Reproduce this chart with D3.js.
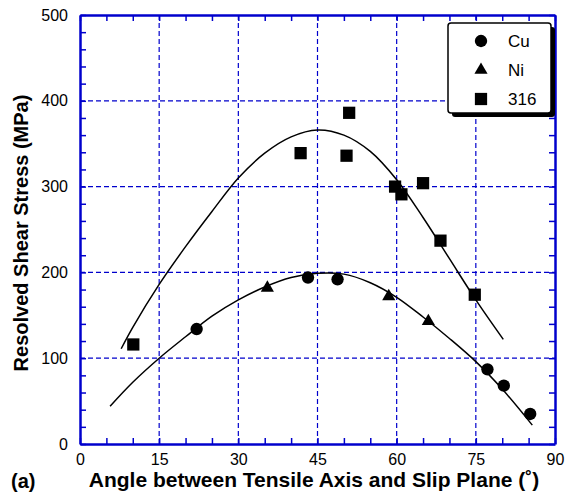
<!DOCTYPE html>
<html>
<head>
<meta charset="utf-8">
<script src="https://cdn.jsdelivr.net/npm/d3@7"></script>
<style>
  body { margin: 0; background: #fff; }
  text { font-family: "Liberation Sans", Arial, sans-serif; }
</style>
</head>
<body>
<div id="chart"></div>
<script>
// measured points
let cuAngle = [22.1, 43.2, 48.8, 77.2, 80.3, 85.3]
let cuStress = [134, 194, 192, 87, 68, 35]
let niAngle = [35.5, 58.5, 66.0]
let niStress = [182, 172, 143]
let ssAngle = [10.1, 41.8, 50.5, 51.0, 59.7, 60.9, 65.0, 68.3, 74.8]
let ssStress = [116, 339, 336, 386, 300, 291, 304, 237, 174]

// fitted curves
let fitHighAngle = [7.8, 10, 15, 20, 25, 30, 35, 40, 45, 50, 55, 60, 65, 70, 75, 80.2]
let fitHighStress = [111, 136, 186, 230, 271, 310, 339, 358, 366, 360, 341, 308, 264, 216, 168, 122]
let fitLowAngle = [5.7, 10, 15, 20, 25, 30, 35, 40, 45, 50, 55, 60, 65, 70, 75, 80, 85.7]
let fitLowStress = [44, 72, 100, 125, 149, 168, 183, 194, 199, 198, 188, 171, 148, 123, 96, 64, 22]

let xTicks = [0, 15, 30, 45, 60, 75, 90]
let yTicks = [0, 100, 200, 300, 400, 500]
let legendLabels = ["Cu", "Ni", "316"]

let margin = {top: 15, right: 12, bottom: 58, left: 80}
let width = 567 - margin.left - margin.right
let height = 502 - margin.top - margin.bottom
let blue = "#0000cc"

let svg = d3.select("#chart")
    .append("svg")
    .attr("width", 567)
    .attr("height", 502)
    .append("g")
    .attr("transform", "translate(" + margin.left + "," + margin.top + ")")

let x = d3.scaleLinear().domain([0, 90]).range([0, width])
let y = d3.scaleLinear().domain([0, 500]).range([height, 0])

// grid
svg.append("g").selectAll("line")
    .data(xTicks.slice(1, -1))
    .enter().append("line")
    .attr("x1", d => x(d)).attr("x2", d => x(d))
    .attr("y1", 0).attr("y2", height)
    .attr("stroke", blue).attr("stroke-width", 1.2)
    .attr("stroke-dasharray", "5,3")
svg.append("g").selectAll("line")
    .data(yTicks.slice(1, -1))
    .enter().append("line")
    .attr("y1", d => y(d)).attr("y2", d => y(d))
    .attr("x1", 0).attr("x2", width)
    .attr("stroke", blue).attr("stroke-width", 1.2)
    .attr("stroke-dasharray", "5,3")

// axes with inner ticks on every side
function styleAxis(g) {
    g.select(".domain").attr("stroke", blue).attr("stroke-width", 2.5)
    g.selectAll(".tick line").attr("stroke", blue).attr("stroke-width", 1.5)
    g.selectAll(".tick text").attr("fill", "#000")
        .style("font-size", "16px").style("font-family", "Liberation Sans, Arial, sans-serif")
}
let xMinor = d3.range(0, 91, 5)
let yMinor = d3.range(0, 501, 20)

svg.append("g")
    .attr("transform", "translate(0," + height + ")")
    .call(d3.axisBottom(x).tickValues(xMinor).tickSize(-6).tickSizeOuter(0)
        .tickFormat(d => xTicks.includes(d) ? d : "").tickPadding(10))
    .call(styleAxis)
svg.append("g")
    .call(d3.axisTop(x).tickValues(xMinor).tickSize(-6).tickSizeOuter(0).tickFormat(""))
    .call(styleAxis)
svg.append("g")
    .call(d3.axisLeft(y).tickValues(yMinor).tickSize(-6).tickSizeOuter(0)
        .tickFormat(d => yTicks.includes(d) ? d : "").tickPadding(12))
    .call(styleAxis)
svg.append("g")
    .attr("transform", "translate(" + width + ",0)")
    .call(d3.axisRight(y).tickValues(yMinor).tickSize(-6).tickSizeOuter(0).tickFormat(""))
    .call(styleAxis)

// fitted curves
let line = d3.line()
    .x(d => x(d[0]))
    .y(d => y(d[1]))
    .curve(d3.curveCatmullRom)
svg.append("path")
    .datum(d3.zip(fitHighAngle, fitHighStress))
    .attr("d", line)
    .attr("fill", "none").attr("stroke", "#000").attr("stroke-width", 1.5)
svg.append("path")
    .datum(d3.zip(fitLowAngle, fitLowStress))
    .attr("d", line)
    .attr("fill", "none").attr("stroke", "#000").attr("stroke-width", 1.5)

// markers
let symCircle = d3.symbol().type(d3.symbolCircle).size(120)
let symTri = d3.symbol().type(d3.symbolTriangle).size(75)
let symSquare = d3.symbol().type(d3.symbolSquare).size(150)

function drawPoints(xs, ys, sym) {
    svg.append("g").selectAll("path")
        .data(d3.zip(xs, ys))
        .enter().append("path")
        .attr("d", sym)
        .attr("transform", d => "translate(" + x(d[0]) + "," + y(d[1]) + ")")
        .attr("fill", "#000")
}
drawPoints(cuAngle, cuStress, symCircle)
drawPoints(niAngle, niStress, symTri)
drawPoints(ssAngle, ssStress, symSquare)

// legend
let legend = svg.append("g").attr("transform", "translate(" + (448 - margin.left) + "," + (23 - margin.top) + ")")
legend.append("rect")
    .attr("x", 4).attr("y", 4).attr("width", 103).attr("height", 90).attr("rx", 3)
    .attr("fill", "#000")
legend.append("rect")
    .attr("width", 103).attr("height", 90).attr("rx", 3)
    .attr("fill", "#fff").attr("stroke", "#000").attr("stroke-width", 1.5)
let legendSyms = [symCircle, symTri, symSquare]
legendLabels.forEach((label, i) => {
    legend.append("path")
        .attr("d", legendSyms[i])
        .attr("transform", "translate(33," + (18 + i * 29) + ")")
        .attr("fill", "#000")
    legend.append("text")
        .attr("x", 60).attr("y", 18 + i * 29)
        .attr("dy", "0.36em")
        .style("font-size", "17px")
        .text(label)
})

// titles
svg.append("text")
    .attr("transform", "translate(-52.5," + (233 - margin.top) + ") rotate(-90)")
    .attr("text-anchor", "middle")
    .style("font-size", "20px").style("font-weight", "bold")
    .text("Resolved Shear Stress (MPa)")
svg.append("text")
    .attr("x", 234).attr("y", height + 43)
    .attr("text-anchor", "middle")
    .style("font-size", "21px").style("font-weight", "bold")
    .text("Angle between Tensile Axis and Slip Plane (˚)")
svg.append("text")
    .attr("x", -69).attr("y", height + 44)
    .style("font-size", "20px").style("font-weight", "bold")
    .text("(a)")
</script>
</body>
</html>
